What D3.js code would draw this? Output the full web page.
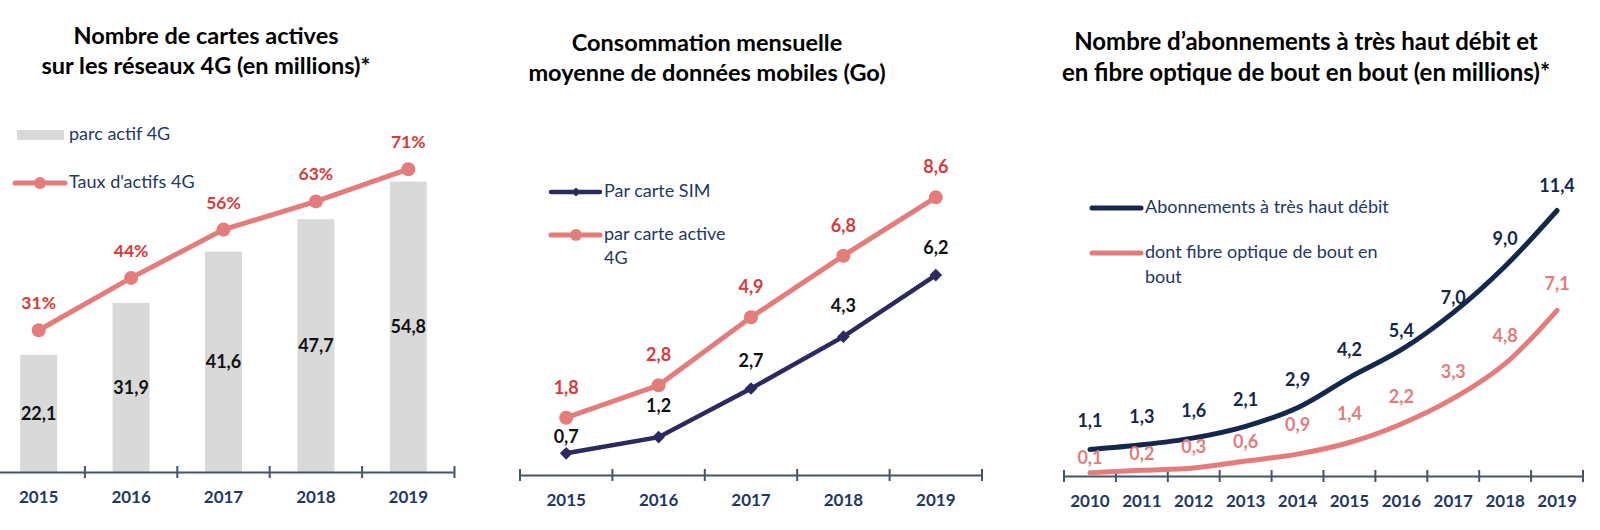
<!DOCTYPE html>
<html><head><meta charset="utf-8">
<script src="https://cdn.jsdelivr.net/npm/d3@7"></script>
<style>
body{margin:0;background:#fff}
svg{display:block}
text{font-family:Lato,"Open Sans",sans-serif}
</style>
</head><body>
<svg id="c" width="1600" height="530"></svg>
<script>
// ---------------- DATA ----------------
const years4G = ["2015", "2016", "2017", "2018", "2019"];
const parcActif4G = [22.1, 31.9, 41.6, 47.7, 54.8];
const tauxActifs4G = [31, 44, 56, 63, 71];

const consoParCarteSIM = [0.7, 1.2, 2.7, 4.3, 6.2];
const consoParCarte4G = [1.8, 2.8, 4.9, 6.8, 8.6];

const yearsTHD = ["2010", "2011", "2012", "2013", "2014", "2015", "2016", "2017", "2018", "2019"];
const abonnementsTHD = [1.1, 1.3, 1.6, 2.1, 2.9, 4.2, 5.4, 7.0, 9.0, 11.4];
const fibreBoutEnBout = [0.1, 0.2, 0.3, 0.6, 0.9, 1.4, 2.2, 3.3, 4.8, 7.1];

// ---------------- STYLE / LAYOUT ----------------
const C = {
  bar: "#d9d9d9", salmon: "#e47c7c", red: "#d73a3a", navy2: "#2b2a5e",
  navy3: "#13284a", axis: "#44546a", tick: "#1f3864", legend: "#1f3864", black: "#111"
};
const FS = {title: 23.5, tick: 17, value: 18, legend: 18};
const loc = d3.formatLocale({decimal: ",", thousands: " ", grouping: [3], currency: ["", "€"]});
const f1 = loc.format(".1f");
const svg = d3.select("#c");

function drawAxis(g, x, y0) {
  const ax = d3.axisBottom(x).tickSize(0).tickPadding(19).tickSizeOuter(0);
  const a = g.append("g").attr("transform", `translate(0,${y0})`).call(ax);
  a.select(".domain").attr("stroke", C.axis).attr("stroke-width", 2);
  a.selectAll("text").attr("font-size", FS.tick).attr("font-weight", 700).attr("fill", C.tick)
    .attr("font-family", "Lato");
  const bounds = x.domain().map(d => x(d)).concat([x.range()[1]]);
  g.append("g").selectAll("line").data(bounds).join("line")
    .attr("x1", d => d).attr("x2", d => d)
    .attr("y1", y0 - 6).attr("y2", y0 + 6)
    .attr("stroke", C.axis).attr("stroke-width", 2);
}
function title(lines, cx, ys, size) {
  lines.forEach((t, i) => svg.append("text").attr("x", cx).attr("y", ys[i])
    .attr("text-anchor", "middle").attr("font-size", size).attr("font-weight", 700)
    .attr("fill", "#000").text(t));
}
function legText(x, y, t) {
  svg.append("text").attr("x", x).attr("y", y).attr("dy", "0.35em")
    .attr("font-size", FS.legend).attr("fill", C.legend).text(t);
}

// ================= CHART 1 =================
{
  const g = svg.append("g");
  const x = d3.scaleBand().domain(years4G).range([-7.5, 454.5]).padding(0);
  const yB = d3.scaleLinear().domain([0, 60]).range([472, 154]);
  const yP = d3.scaleLinear().domain([0, 100]).range([455, 52.5]);
  const bw = 37;
  g.selectAll("rect.bar").data(parcActif4G).join("rect")
    .attr("x", (d, i) => x(years4G[i]) + x.bandwidth() / 2 - bw / 2)
    .attr("width", bw).attr("y", d => yB(d)).attr("height", d => yB(0) - yB(d))
    .attr("fill", C.bar);
  g.selectAll("text.bv").data(parcActif4G).join("text")
    .attr("x", (d, i) => x(years4G[i]) + x.bandwidth() / 2)
    .attr("y", d => (yB(d) + yB(0)) / 2).attr("dy", "0.35em")
    .attr("text-anchor", "middle").attr("font-size", FS.value).attr("font-weight", 700)
    .attr("fill", C.black).text(d => f1(d));
  drawAxis(g, x, 472);
  const line = d3.line().x((d, i) => x(years4G[i]) + x.bandwidth() / 2).y(d => yP(d));
  g.append("path").datum(tauxActifs4G).attr("d", line).attr("fill", "none")
    .attr("stroke", C.salmon).attr("stroke-width", 5);
  g.selectAll("circle").data(tauxActifs4G).join("circle")
    .attr("cx", (d, i) => x(years4G[i]) + x.bandwidth() / 2).attr("cy", d => yP(d))
    .attr("r", 7).attr("fill", C.salmon);
  g.selectAll("text.pv").data(tauxActifs4G).join("text")
    .attr("x", (d, i) => x(years4G[i]) + x.bandwidth() / 2).attr("y", d => yP(d) - 21)
    .attr("text-anchor", "middle").attr("font-size", 17.5).attr("font-weight", 700)
    .attr("fill", C.red).text(d => d + "%");
  title(["Nombre de cartes actives", "sur les réseaux 4G (en millions)*"], 206, [44, 74], FS.title);
  // legend
  svg.append("rect").attr("x", 17).attr("y", 130).attr("width", 47).attr("height", 10).attr("fill", C.bar);
  legText(69, 134, "parc actif 4G");
  svg.append("line").attr("x1", 15).attr("x2", 65).attr("y1", 183).attr("y2", 183)
    .attr("stroke", C.salmon).attr("stroke-width", 5).attr("stroke-linecap", "round");
  svg.append("circle").attr("cx", 40).attr("cy", 183).attr("r", 6).attr("fill", C.salmon);
  legText(69, 182, "Taux d'actifs 4G");
}

// ================= CHART 2 =================
{
  const g = svg.append("g");
  const x = d3.scaleBand().domain(years4G).range([520, 982]).padding(0);
  const y = d3.scaleLinear().domain([0, 10]).range([476, 152]);
  const cx = (i) => x(years4G[i]) + x.bandwidth() / 2;
  drawAxis(g, x, 475);
  const line = d3.line().x((d, i) => cx(i)).y(d => y(d));
  g.append("path").datum(consoParCarte4G).attr("d", line).attr("fill", "none")
    .attr("stroke", C.salmon).attr("stroke-width", 5);
  g.selectAll("circle").data(consoParCarte4G).join("circle")
    .attr("cx", (d, i) => cx(i)).attr("cy", d => y(d)).attr("r", 7).attr("fill", C.salmon);
  g.append("path").datum(consoParCarteSIM).attr("d", line).attr("fill", "none")
    .attr("stroke", C.navy2).attr("stroke-width", 4.5);
  const dia = d3.symbol(d3.symbolSquare, 80);
  g.selectAll("path.dm").data(consoParCarteSIM).join("path")
    .attr("d", dia).attr("transform", (d, i) => `translate(${cx(i)},${y(d)}) rotate(45)`)
    .attr("fill", C.navy2);
  const simDy = [10, 25, 22, 25, 21];
  g.selectAll("text.sv").data(consoParCarteSIM).join("text")
    .attr("x", (d, i) => cx(i)).attr("y", (d, i) => y(d) - simDy[i])
    .attr("text-anchor", "middle").attr("font-size", FS.value).attr("font-weight", 700)
    .attr("fill", C.black).text(d => f1(d));
  g.selectAll("text.av").data(consoParCarte4G).join("text")
    .attr("x", (d, i) => cx(i)).attr("y", d => y(d) - 24)
    .attr("text-anchor", "middle").attr("font-size", FS.value).attr("font-weight", 700)
    .attr("fill", C.red).text(d => f1(d));
  title(["Consommation mensuelle", "moyenne de données mobiles (Go)"], 707, [51, 81], FS.title);
  svg.append("line").attr("x1", 551).attr("x2", 600).attr("y1", 192).attr("y2", 192)
    .attr("stroke", C.navy2).attr("stroke-width", 4.5).attr("stroke-linecap", "round");
  svg.append("path").attr("d", d3.symbol(d3.symbolSquare, 40))
    .attr("transform", "translate(576,192) rotate(45)").attr("fill", C.navy2);
  legText(604, 191, "Par carte SIM");
  svg.append("line").attr("x1", 551).attr("x2", 600).attr("y1", 235).attr("y2", 235)
    .attr("stroke", C.salmon).attr("stroke-width", 5).attr("stroke-linecap", "round");
  svg.append("circle").attr("cx", 576).attr("cy", 235).attr("r", 6).attr("fill", C.salmon);
  legText(604, 234, "par carte active");
  legText(604, 258, "4G");
}

// ================= CHART 3 =================
{
  const g = svg.append("g");
  const x = d3.scaleBand().domain(yearsTHD).range([1064, 1583]).padding(0);
  const y = d3.scaleLinear().domain([0, 12]).range([475, 196.6]);
  const cx = (i) => x(yearsTHD[i]) + x.bandwidth() / 2;
  drawAxis(g, x, 476);
  const line = d3.line().x((d, i) => cx(i)).y(d => y(d)).curve(d3.curveCatmullRom.alpha(0.5));
  g.append("path").datum(fibreBoutEnBout).attr("d", line).attr("fill", "none")
    .attr("stroke", C.salmon).attr("stroke-width", 5).attr("stroke-linecap", "round");
  g.append("path").datum(abonnementsTHD).attr("d", line).attr("fill", "none")
    .attr("stroke", C.navy3).attr("stroke-width", 5).attr("stroke-linecap", "round");
  const thdDy = [22, 22, 21, 20, 22, 22, 13, 9, 21, 19];
  const fibDy = [9, 10, 15, 13, 23, 23, 21, 20, 22, 20];
  g.selectAll("text.tv").data(abonnementsTHD).join("text")
    .attr("x", (d, i) => cx(i)).attr("y", (d, i) => y(d) - thdDy[i])
    .attr("text-anchor", "middle").attr("font-size", FS.value).attr("font-weight", 700)
    .attr("fill", C.navy3).text(d => f1(d));
  g.selectAll("text.fv").data(fibreBoutEnBout).join("text")
    .attr("x", (d, i) => cx(i)).attr("y", (d, i) => y(d) - fibDy[i])
    .attr("text-anchor", "middle").attr("font-size", FS.value).attr("font-weight", 700)
    .attr("fill", C.salmon).text(d => f1(d));
  title(["Nombre d’abonnements à très haut débit et", "en fibre optique de bout en bout (en millions)*"], 1306, [50, 81], 24);
  svg.append("line").attr("x1", 1092).attr("x2", 1141).attr("y1", 208).attr("y2", 208)
    .attr("stroke", C.navy3).attr("stroke-width", 5).attr("stroke-linecap", "round");
  legText(1145, 207, "Abonnements à très haut débit");
  svg.append("line").attr("x1", 1092).attr("x2", 1141).attr("y1", 253).attr("y2", 253)
    .attr("stroke", C.salmon).attr("stroke-width", 5).attr("stroke-linecap", "round");
  legText(1145, 252, "dont fibre optique de bout en");
  legText(1145, 277, "bout");
}
</script>
</body></html>
